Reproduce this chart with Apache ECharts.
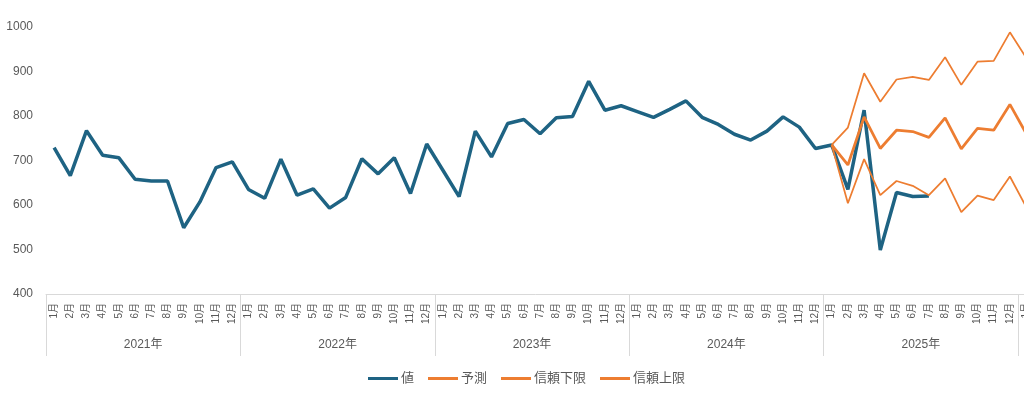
<!DOCTYPE html>
<html><head><meta charset="utf-8">
<script src="https://cdn.jsdelivr.net/npm/echarts@6/dist/echarts.min.js"></script>
<style>html,body{margin:0;padding:0;background:#fff}#c{width:1024px;height:395px}</style>
</head><body><div id="c"></div>
<script>
// ---- data ----
const years = ['2021年', '2022年', '2023年', '2024年', '2025年', '2026年'];
const monthNames = ['1月', '2月', '3月', '4月', '5月', '6月', '7月', '8月', '9月', '10月', '11月', '12月'];
const yTicks = [400, 500, 600, 700, 800, 900, 1000];

// 値 : Jan 2021 – Jul 2025
const actual = [
  729, 666, 767, 712, 706, 658, 654, 654, 549, 607, 684, 697,
  635, 615, 703, 622, 636, 593, 617, 704, 670, 706, 626, 737,
  678, 619, 766, 708, 783, 792, 760, 796, 799, 878, 813, 823,
  810, 797, 815, 834, 797, 781, 759, 746, 766, 798, 775, 727,
  735, 635, 813, 499, 628, 619, 620
];
// forecast series start at Jan 2025 (category index 48) and run to Jan 2026
const forecastStart = 48;
const forecast   = [735, 690, 798, 727, 768, 765, 752, 796, 726, 772, 768, 826, 761];
const lowerBound = [735, 604, 703, 622, 654, 643, 622, 660, 584, 621, 611, 664, 596];
const upperBound = [735, 774, 896, 832, 882, 888, 881, 932, 870, 922, 924, 988, 931];

// ---- build ----
const categories = [];
years.forEach(() => monthNames.forEach(m => categories.push(m)));
function pad(arr, start) {
  const out = new Array(categories.length).fill(null);
  arr.forEach((v, i) => { out[start + i] = v; });
  return out;
}

const txt = '#595959';
const ff = '"Liberation Sans", "Noto Sans CJK JP", sans-serif';
const blue = '#1E6383';
const orange = '#ED7D31';

const chart = echarts.init(document.getElementById('c'));
chart.setOption({
  animation: false,
  backgroundColor: '#fff',
  textStyle: { fontFamily: ff },
  grid: { left: 46, top: 27, bottom: 101, right: -188.4, containLabel: false, outerBoundsMode: 'none' },
  legend: {
    left: 363, top: 367,
    icon: 'rect',
    itemWidth: 30, itemHeight: 3, itemGap: 14,
    textStyle: { color: txt, fontSize: 13, fontFamily: ff, padding: [0, 0, 0, -2] },
    data: ['値', '予測', '信頼下限', '信頼上限']
  },
  xAxis: [
    {
      type: 'category', data: categories, boundaryGap: true,
      axisLine: { show: true, lineStyle: { color: '#d9d9d9', width: 1 } },
      axisTick: { show: false },
      axisLabel: { interval: 0, rotate: 90, margin: 9, fontSize: 10, color: txt, fontFamily: ff }
    },
    {
      type: 'category', data: years, position: 'bottom', boundaryGap: true,
      axisLine: { show: false },
      axisTick: { show: true, interval: 0, length: 62, lineStyle: { color: '#d9d9d9', width: 1 } },
      axisLabel: { interval: 0, margin: 45, fontSize: 12, color: txt, fontFamily: ff }
    }
  ],
  yAxis: {
    type: 'value', min: yTicks[0], max: yTicks[yTicks.length - 1], interval: 100,
    axisLine: { show: false }, axisTick: { show: false }, splitLine: { show: false },
    axisLabel: { margin: 13, fontSize: 12, color: txt, fontFamily: ff, formatter: v => String(v) }
  },
  series: [
    { name: '値', type: 'line', data: pad(actual, 0), symbol: 'none', xAxisIndex: 0,
      lineStyle: { color: blue, width: 3.5 }, itemStyle: { color: blue } },
    { name: '予測', type: 'line', data: pad(forecast, forecastStart), symbol: 'none', xAxisIndex: 0,
      lineStyle: { color: orange, width: 2.75 }, itemStyle: { color: orange } },
    { name: '信頼下限', type: 'line', data: pad(lowerBound, forecastStart), symbol: 'none', xAxisIndex: 0,
      lineStyle: { color: orange, width: 1.75 }, itemStyle: { color: orange } },
    { name: '信頼上限', type: 'line', data: pad(upperBound, forecastStart), symbol: 'none', xAxisIndex: 0,
      lineStyle: { color: orange, width: 1.75 }, itemStyle: { color: orange } }
  ]
});
</script>
</body></html>
